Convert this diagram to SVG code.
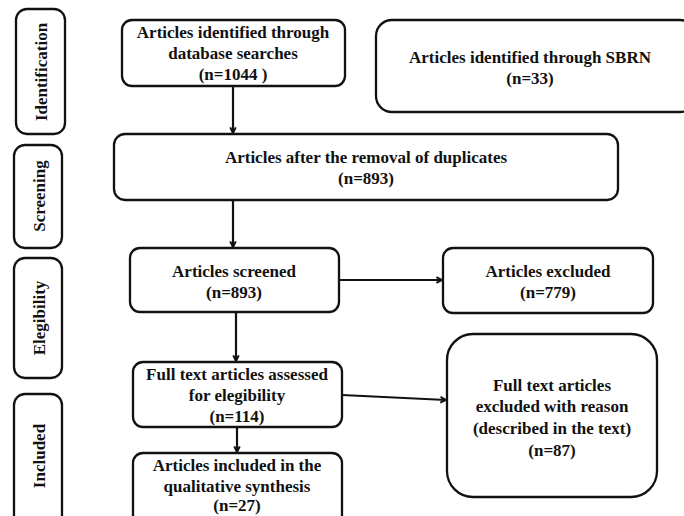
<svg xmlns="http://www.w3.org/2000/svg" width="684" height="516" viewBox="0 0 684 516">
<style>
.box{fill:#fff;stroke:#111;stroke-width:2.3}
text{font-family:"Liberation Serif","Times New Roman",serif;font-weight:bold;font-size:17px;fill:#111;text-anchor:middle}
.conn{stroke:#111;stroke-width:2.2;fill:none;marker-end:url(#ah)}
</style>
<defs>
<marker id="ah" viewBox="0 0 10 10" refX="9" refY="5" markerWidth="8" markerHeight="8" orient="auto" markerUnits="userSpaceOnUse">
<path d="M2,1.5 L9,5 L2,8.5" fill="none" stroke="#111" stroke-width="2.4"/>
</marker>
</defs>
<rect width="684" height="516" fill="#fff"/>
<g id="stage-identification"><rect class="box" x="16" y="9" width="49" height="125" rx="11"/><text transform="translate(47,72) rotate(-90)">Identification</text></g>
<g id="stage-screening"><rect class="box" x="14" y="145" width="48" height="103" rx="11"/><text transform="translate(45,196) rotate(-90)">Screening</text></g>
<g id="stage-eligibility"><rect class="box" x="14" y="258" width="48" height="120" rx="11"/><text transform="translate(45,318) rotate(-90)">Elegibility</text></g>
<g id="stage-included"><rect class="box" x="14" y="394" width="48" height="140" rx="11"/><text transform="translate(45,456) rotate(-90)">Included</text></g>

<g id="n-db"><rect class="box" x="122" y="20" width="223" height="66" rx="10"/><text x="233" y="38">Articles identified through</text><text x="233" y="59">database searches</text><text x="233" y="80">(n=1044 )</text></g>
<g id="n-sbrn"><rect class="box" x="376" y="20" width="320" height="92" rx="16"/><text x="530" y="63">Articles identified through SBRN</text><text x="530" y="84">(n=33)</text></g>
<g id="n-dup"><rect class="box" x="114" y="134" width="504" height="66" rx="11"/><text x="366" y="163">Articles after the removal of duplicates</text><text x="366" y="184">(n=893)</text></g>
<g id="n-screened"><rect class="box" x="130" y="248" width="209" height="64" rx="10"/><text x="234" y="277">Articles screened</text><text x="234" y="298">(n=893)</text></g>
<g id="n-excluded"><rect class="box" x="443" y="248" width="210" height="65" rx="10"/><text x="548" y="277">Articles excluded</text><text x="548" y="298">(n=779)</text></g>
<g id="n-fulltext"><rect class="box" x="133" y="362" width="209" height="65" rx="10"/><text x="237" y="380">Full text articles assessed</text><text x="237" y="401">for elegibility</text><text x="237" y="422">(n=114)</text></g>
<g id="n-ftexcluded"><rect class="box" x="447" y="334" width="210" height="163" rx="26"/><text x="552" y="391">Full text articles</text><text x="552" y="412">excluded with reason</text><text x="552" y="434">(described in the text)</text><text x="552" y="456">(n=87)</text></g>
<g id="n-included"><rect class="box" x="133" y="453" width="209" height="80" rx="10"/><text x="237" y="471">Articles included in the</text><text x="237" y="492">qualitative synthesis</text><text x="237" y="511">(n=27)</text></g>

<g id="connectors">
<line class="conn" x1="233" y1="86" x2="233" y2="133"/>
<line class="conn" x1="233" y1="200" x2="233" y2="247"/>
<line class="conn" x1="236" y1="312" x2="236" y2="361"/>
<line class="conn" x1="237" y1="427" x2="237" y2="452"/>
<line class="conn" x1="339" y1="280" x2="442" y2="280"/>
<line class="conn" x1="342" y1="395" x2="446" y2="400"/>
</g>
</svg>
